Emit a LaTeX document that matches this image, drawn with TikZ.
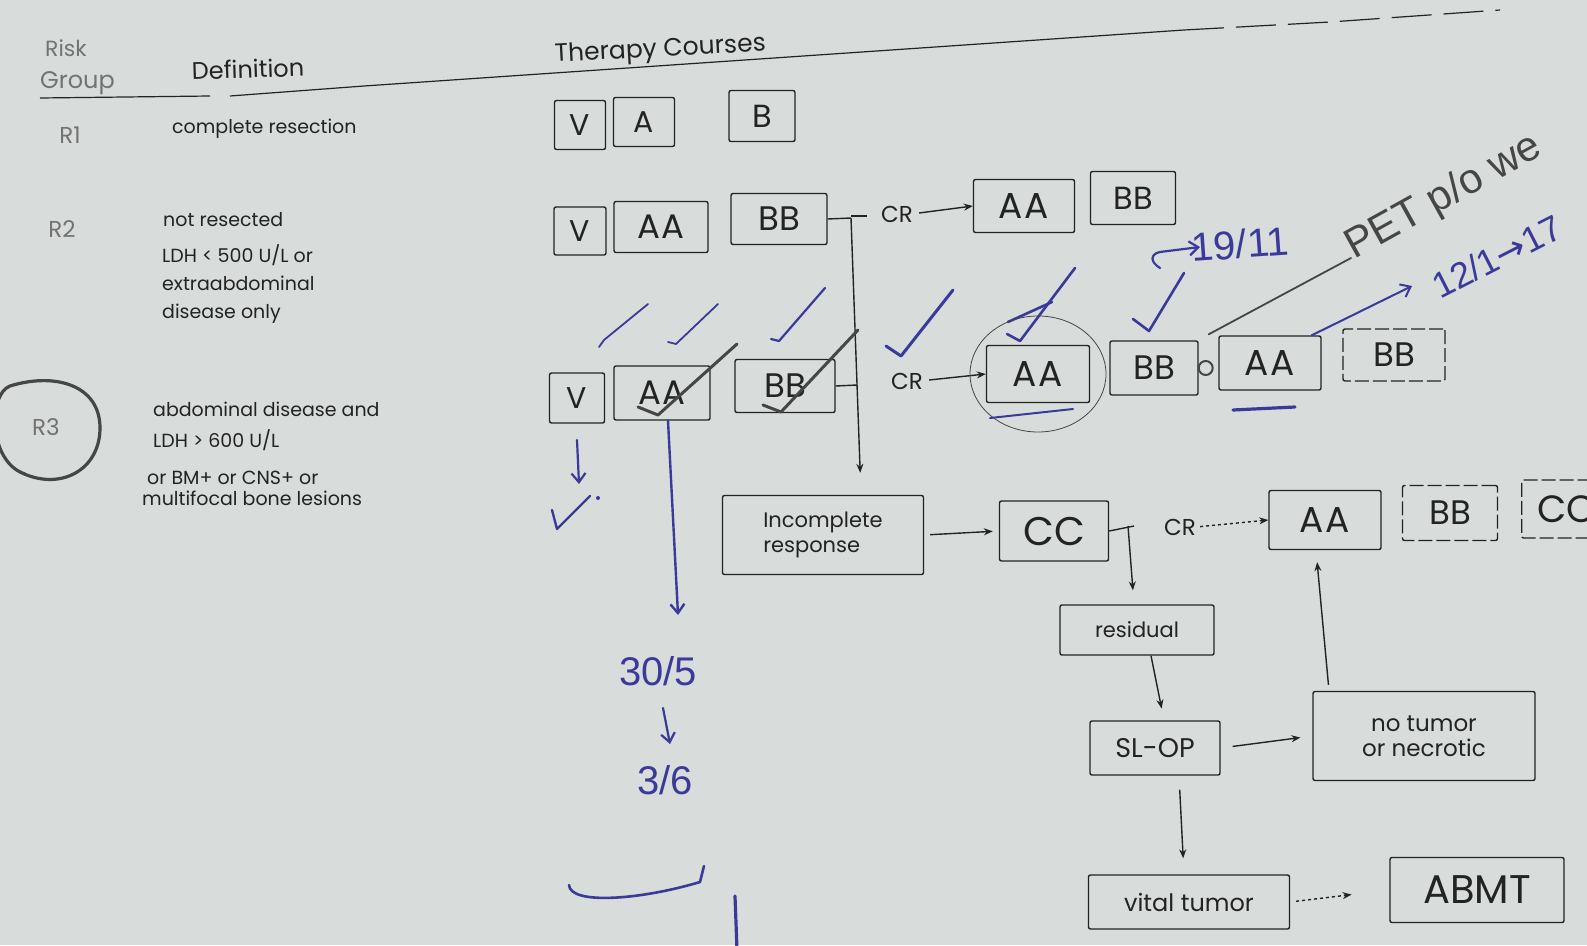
\documentclass[tikz,border=0pt]{standalone}
\usepackage{fontspec}
\setmainfont{Poppins}
\newfontfamily\hand{Liberation Sans}
\newfontfamily\symb{DejaVu Sans}
\usetikzlibrary{arrows.meta}
\definecolor{paper}{RGB}{216,220,219}
\definecolor{ink}{RGB}{58,58,155}
\definecolor{pencil}{RGB}{70,70,70}
\definecolor{prt}{RGB}{35,35,35}
\definecolor{faint}{RGB}{115,115,115}
\newcommand\fs[1]{\fontsize{#1}{#1}\selectfont}
\tikzset{
  box/.style={draw=prt, line width=1.4pt, rounded corners=2pt, inner sep=0pt, text=prt},
  dbox/.style={box, dash pattern=on 14pt off 4pt},
  ptext/.style={text=prt, inner sep=0pt},
  deftext/.style={text=prt, inner sep=0pt, anchor=base west, font=\fs{19}},
  conn/.style={draw=prt, line width=1.4pt, -{Stealth[length=9pt,width=7pt]}},
  plain/.style={draw=prt, line width=1.4pt},
  inkline/.style={draw=ink, line width=2.6pt, line cap=round, line join=round},
  inkarrow/.style={inkline, -{Straight Barb[length=9pt,width=14pt]}},
  pencilline/.style={draw=pencil, line width=2.6pt, line cap=round, line join=round},
  handtext/.style={text=ink, inner sep=0pt, font=\hand\fs{40}},
}
\begin{document}
\begin{tikzpicture}[x=1pt,y=-1pt]
\fill[paper] (0,0) rectangle (1587,945);
\useasboundingbox (0,0) rectangle (1587,945);
\clip (0,0) rectangle (1587,945);

% ---------- header ----------
\node[text=faint, inner sep=0pt, font=\fs{22}, anchor=base west] (risk) at (45,56) {Risk};
\node[text=faint, inner sep=0pt, font=\fs{24}, anchor=base west] (group) at (40,88) {Group};
\node[ptext, font=\fs{24}, rotate=2, anchor=base west] (defin) at (192,80) {Definition};
\node[ptext, font=\fs{25}, rotate=3, anchor=base west] (ther) at (555,62) {Therapy Courses};
\draw[draw=prt, line width=1.2pt] (40,98) -- (210,96);
\draw[draw=prt, line width=1.2pt] (230,96) -- (364,86) -- (1184,30);
\draw[draw=prt, line width=1.2pt, dash pattern=on 40pt off 12pt] (1184,30) -- (1330,22) -- (1500,10);

% ---------- risk groups ----------
\node[text=faint, inner sep=0pt, font=\fs{23}] (lr1) at (70,135) {R1};
\node[text=faint, inner sep=0pt, font=\fs{23}] (lr2) at (62,229) {R2};
\node[text=faint, inner sep=0pt, font=\fs{23}] (lr3) at (46,427) {R3};
\draw[pencilline, line width=3.2pt] (20,472) .. controls (60,492) and (100,470) .. (100,428)
   .. controls (100,385) and (55,372) .. (10,386) .. controls (-12,394) and (-12,462) .. (25,474);

\node[deftext] (d1) at (172,133) {complete resection};
\node[deftext] (d2a) at (163,226) {not resected};
\node[deftext] (d2b) at (162,262) {LDH < 500 U/L or};
\node[deftext] (d2c) at (162,290) {extraabdominal};
\node[deftext] (d2d) at (162,318) {disease only};
\node[deftext] (d3a) at (153,416) {abdominal disease and};
\node[deftext] (d3b) at (153,447) {LDH > 600 U/L};
\node[deftext] (d3c) at (147,484) {or BM+ or CNS+ or};
\node[deftext] (d3d) at (142,505) {multifocal bone lesions};

% ---------- therapy boxes ----------
\node[box, minimum width=51pt, minimum height=49pt, font=\fs{30}] (r1v) at (580,125) {V};
\node[box, minimum width=61pt, minimum height=49pt, font=\fs{30}] (r1a) at (644,122) {A};
\node[box, minimum width=66pt, minimum height=51pt, font=\fs{32}] (r1b) at (762,116) {B};

\node[box, minimum width=52pt, minimum height=48pt, font=\fs{30}] (r2v) at (580,231) {V};
\node[box, minimum width=94pt, minimum height=51pt, font=\fs{34}] (r2aa) at (661,227) {A\kern2pt A};
\node[box, minimum width=96pt, minimum height=51pt, font=\fs{34}] (r2bb) at (779,219) {BB};
\node[box, minimum width=101pt, minimum height=53pt, font=\fs{36}] (r2aa2) at (1024,206) {A\kern2pt A};
\node[box, minimum width=85pt, minimum height=53pt, font=\fs{32}] (r2bb2) at (1133,198) {BB};

\node[box, minimum width=55pt, minimum height=50pt, font=\fs{30}] (r3v) at (577,398) {V};
\node[box, minimum width=96pt, minimum height=54pt, font=\fs{34}] (r3aa) at (662,393) {A\kern2pt A};
\node[box, minimum width=100pt, minimum height=53pt, font=\fs{34}] (r3bb) at (785,386) {BB};
\node[box, minimum width=103pt, minimum height=57pt, font=\fs{36}] (r3aa2) at (1038,374) {A\kern2pt A};
\node[box, minimum width=88pt, minimum height=54pt, font=\fs{34}] (r3bb2) at (1154,368) {BB};
\node[box, minimum width=102pt, minimum height=54pt, font=\fs{36}] (r3aa3) at (1270,363) {A\kern2pt A};
\node[dbox, minimum width=102pt, minimum height=52pt, font=\fs{34}] (r3bb3) at (1394,355) {BB};

\node[box, minimum width=201pt, minimum height=79pt, font=\fs{21}, align=left] (inc) at (823,535) {Incomplete\\[4pt]response};
\node[box, minimum width=109pt, minimum height=60pt, font=\fs{40}] (cc) at (1054,531) {CC};
\node[box, minimum width=112pt, minimum height=59pt, font=\fs{36}] (aa4) at (1325,520) {A\kern2pt A};
\node[dbox, minimum width=95pt, minimum height=55pt, font=\fs{34}] (bb4) at (1450,513) {BB};
\node[dbox, minimum width=90pt, minimum height=58pt, font=\fs{38}, anchor=west] (cc4) at (1521,509) {CC};

\node[box, minimum width=154pt, minimum height=50pt, font=\fs{21}] (resid) at (1137,630) {residual};
\node[box, minimum width=130pt, minimum height=54pt, font=\fs{27}] (slop) at (1155,748) {SL-OP};
\node[box, minimum width=222pt, minimum height=89pt, font=\fs{23}, align=center] (notum) at (1424,736) {no tumor\\[2pt]or necrotic};
\node[box, minimum width=201pt, minimum height=54pt, font=\fs{24}] (vital) at (1189,902) {vital tumor};
\node[box, minimum width=174pt, minimum height=65pt, font=\fs{40}] (abmt) at (1477,890) {ABMT};

% ---------- CR labels ----------
\node[ptext, font=\fs{23}] (cr2) at (897,214) {CR};
\node[ptext, font=\fs{23}] (cr3) at (907,381) {CR};
\node[ptext, font=\fs{23}] (cr4) at (1180,527) {CR};

% ---------- connectors ----------
\coordinate (t2) at (851,218);
\coordinate (t3) at (857,385);
\coordinate (tc) at (1134,526);
\draw[plain] (r2bb.east) -- (t2);
\draw[plain] ([yshift=2pt]t2) -- ++(16,0);
\draw[plain] (r3bb.east) -- (t3);
\draw[conn, shorten >=22pt] (t2) -- ([xshift=38pt]inc.north);
\draw[conn] (cr2.east) ++(6,-1) -- (r2aa2.west);
\draw[conn] (cr3.east) ++(6,-1) -- (r3aa2.west);
\draw[pencilline, line width=2pt] ([xshift=7pt]r3bb2.east) circle (7pt);
\draw[conn, shorten <=6pt, shorten >=6pt] (inc.east) -- (cc.west);
\draw[plain] (cc.east) -- (tc);
\draw[conn, shorten >=14pt] ([xshift=-6pt]tc) -- ([xshift=-3pt]resid.north);
\draw[conn, dashed, shorten <=4pt] (cr4.east) -- (aa4.west);
\draw[conn, shorten >=12pt] ([xshift=14pt]resid.south) -- ([xshift=9pt]slop.north);
\draw[conn, shorten <=12pt, shorten >=12pt] (slop.east) -- (notum.west);
\draw[conn, shorten <=6pt, shorten >=12pt] ([xshift=-95pt]notum.north) -- ([xshift=-9pt]aa4.south);
\draw[conn, shorten <=14pt, shorten >=16pt] ([xshift=24pt]slop.south) -- ([xshift=-5pt]vital.north);
\draw[conn, dashed, shorten <=6pt, shorten >=38pt] (vital.east) -- (abmt.west);

% ---------- handwritten annotations ----------
\draw[inkline, line width=1.8pt] (599,347) -- (604,340) -- (648,304);
\draw[inkline, line width=1.8pt] (668,342) -- (676,344) -- (718,304);
\draw[inkline, line width=2.2pt] (771,339) -- (779,341) -- (825,288);
\draw[inkline, line width=3pt] (886,346) -- (901,356) -- (953,290);
\draw[inkline, line width=2.6pt] (1007,334) -- (1020,341) -- (1075,268);
\draw[inkline, line width=2.6pt] (1008,322) -- (1052,302);
\draw[inkline, line width=2.6pt] (1133,319) -- (1149,331) -- (1184,273);
\draw[inkarrow, line width=2.2pt] (1160,268) .. controls (1150,262) and (1150,254) .. (1160,252) -- (1200,247);
\node[handtext, rotate=4] (d1911) at (1240,244) {19/11};

\draw[pencilline, line width=1.8pt] ([xshift=10pt,yshift=6pt]r3bb2.north east) -- (1351,258);
\node[text=pencil, inner sep=0pt, font=\hand\fs{42}, rotate=29, anchor=base west] (pet) at (1354,260) {PET p/o we};
\draw[inkarrow, line width=2pt] ([xshift=-10pt]r3aa3.north east) -- (1412,286);
\node[handtext, rotate=27, anchor=base west, font=\hand\fs{36}] (d121) at (1440,300) {12/1{\symb→}17};

\draw[pencilline, line width=3pt] (638,407) -- (658,415) -- (737,344);
\draw[pencilline, line width=3pt] (763,405) -- (781,412) -- (858,330);
\draw[draw=pencil, line width=0.8pt] (r3aa2.center) ellipse (68pt and 58pt);
\draw[inkline, line width=2pt] (990,418) -- (1073,409);
\draw[inkline, line width=3.2pt] (1233,410) -- (1295,407);

\draw[inkarrow, line width=2.2pt] (577,440) -- (579,484);
\draw[inkline, line width=2.4pt] (552,510) -- (557,529) -- (590,496);
\fill[ink] (598,498) circle (2pt);
\draw[inkarrow, line width=2.4pt] ([xshift=6pt]r3aa.south) -- (678,615);
\node[handtext] (d305) at (658,671) {30/5};
\draw[inkarrow, line width=2.2pt] (663,708) -- (670,744);
\node[handtext] (d36) at (665,780) {3/6};
\draw[inkline, line width=2.6pt] (569,885) .. controls (570,905) and (640,900) .. (700,882) -- (704,866);
\draw[inkline, line width=3.2pt] (735,896) -- (737,950);
\end{tikzpicture}
\end{document}
